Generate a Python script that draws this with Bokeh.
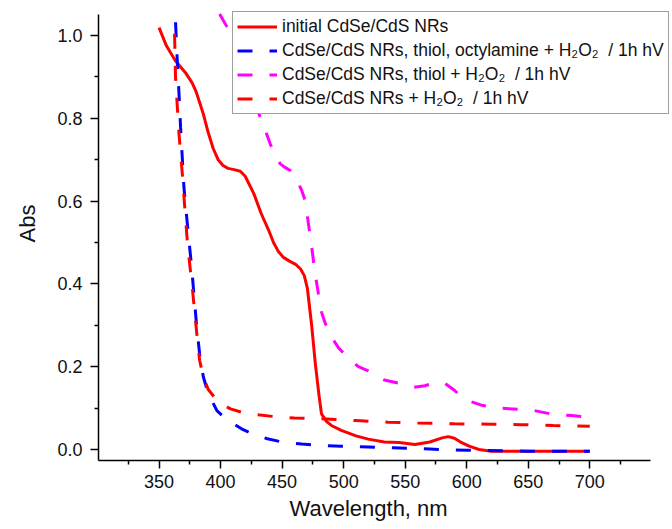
from bokeh.plotting import figure
from bokeh.models import Range1d, FixedTicker, PrintfTickFormatter, Legend, LegendItem, Title
from bokeh.embed import file_html
from bokeh.resources import INLINE

# ---- data ----
init_x = [350, 356, 363, 368, 372, 377, 380, 383, 386, 390, 394, 398, 402, 406, 411, 416,
          420, 427, 433, 439, 443, 447, 451, 456, 461, 465, 468, 470.5, 474, 477, 480, 482,
          486, 490, 498, 510, 520, 533, 545, 558, 570, 580, 585, 590, 595, 602, 610, 620,
          650, 700]
init_y = [1.019, 0.975, 0.940, 0.922, 0.908, 0.885, 0.865, 0.838, 0.810, 0.765, 0.727, 0.700,
          0.686, 0.679, 0.676, 0.672, 0.660, 0.618, 0.570, 0.530, 0.500, 0.478, 0.464, 0.455,
          0.447, 0.436, 0.420, 0.390, 0.300, 0.207, 0.130, 0.086, 0.068, 0.058, 0.046, 0.033,
          0.025, 0.018, 0.017, 0.012, 0.018, 0.028, 0.031, 0.027, 0.018, 0.008, 0.000, -0.004,
          -0.004, -0.004]

octyl_x = [363.4, 364.8, 366.2, 367.5, 370.2, 372.5, 374.3, 376.5, 378.3, 380.5, 383, 386,
           390, 397, 405, 417, 427, 438, 450, 466, 480, 498, 520, 540, 570, 600, 650, 700]
octyl_y = [1.032, 0.940, 0.860, 0.778, 0.634, 0.560, 0.505, 0.440, 0.376, 0.300, 0.230, 0.175,
           0.135, 0.094, 0.072, 0.050, 0.036, 0.026, 0.018, 0.013, 0.010, 0.008, 0.006, 0.004,
           0.001, -0.002, -0.004, -0.004]

thiol_x = [399.2, 405, 410.7, 418, 424, 430, 436.3, 440.4, 444, 448.5, 452, 456.6, 460,
           463.4, 466, 468.7, 471.4, 474, 476.8, 479.5, 482.2, 485, 490, 496, 504, 512, 520,
           533, 545, 557, 566, 575, 582, 590, 596, 603, 612, 625, 638, 655, 668, 685, 700]
thiol_y = [1.052, 1.022, 0.992, 0.930, 0.875, 0.820, 0.771, 0.738, 0.712, 0.690, 0.682,
           0.674, 0.660, 0.642, 0.625, 0.601, 0.545, 0.490, 0.425, 0.376, 0.330, 0.305, 0.272,
           0.245, 0.220, 0.200, 0.190, 0.168, 0.160, 0.150, 0.154, 0.162, 0.160, 0.143, 0.126,
           0.116, 0.107, 0.100, 0.098, 0.094, 0.086, 0.082, 0.078]

h2o2_x = [362.6, 363.4, 364.8, 366.2, 368.9, 371, 372.9, 375, 377, 379, 381, 383, 386, 390,
          398, 408, 417, 430, 442, 460, 482, 510, 536, 560, 590, 620, 644, 670, 700]
h2o2_y = [1.004, 0.899, 0.830, 0.763, 0.666, 0.580, 0.505, 0.445, 0.392, 0.330, 0.270, 0.215,
          0.175, 0.145, 0.115, 0.098, 0.090, 0.084, 0.080, 0.076, 0.074, 0.070, 0.066, 0.064,
          0.062, 0.061, 0.060, 0.058, 0.056]

labels = ["initial CdSe/CdS NRs",
          "CdSe/CdS NRs, thiol, octylamine + H\u2082O\u2082  / 1h hV",
          "CdSe/CdS NRs, thiol + H\u2082O\u2082  / 1h hV",
          "CdSe/CdS NRs + H\u2082O\u2082  / 1h hV"]

x_title = "Wavelength, nm"
y_title = "Abs"

x_ticks = [350, 400, 450, 500, 550, 600, 650, 700]
x_minor = [325, 375, 425, 475, 525, 575, 625, 675, 725]
y_ticks = [0.0, 0.2, 0.4, 0.6, 0.8, 1.0]
y_minor = [0.1, 0.3, 0.5, 0.7, 0.9]

FONT = "Liberation Sans"
TXT = "#111111"

# axis extents (the drawn axes) and the wider plotting area that holds the legend
X_AX = (300.8, 749.5)
Y_AX = (-0.0266, 1.0507)

p = figure(width=672, height=529, output_backend="svg", toolbar_location=None,
           x_range=Range1d(300.8, 767.2), y_range=Range1d(-0.0266, 1.0845),
           min_border_left=96, min_border_right=0, min_border_top=0, min_border_bottom=69)
p.outline_line_color = None
p.xgrid.visible = False
p.ygrid.visible = False
p.background_fill_color = "white"
p.border_fill_color = "white"

DASH = "15 17"
r0 = p.line(init_x, init_y, line_color="#FF0000", line_width=3, line_join="round")
r1 = p.line(octyl_x, octyl_y, line_color="#0000FF", line_width=3, line_dash=DASH)
r2 = p.line(thiol_x, thiol_y, line_color="#FF00FF", line_width=3, line_dash=DASH)
r3 = p.line(h2o2_x, h2o2_y, line_color="#FF0000", line_width=3, line_dash=DASH)

for ax in (p.xaxis[0], p.yaxis[0]):
    ax.axis_line_color = "black"
    ax.axis_line_width = 1.5
    ax.major_tick_line_color = "black"
    ax.minor_tick_line_color = "black"
    ax.major_tick_line_width = 1.5
    ax.minor_tick_line_width = 1.5
    ax.major_tick_in = 0
    ax.major_tick_out = 8
    ax.minor_tick_in = 0
    ax.minor_tick_out = 4
    ax.major_label_text_font = FONT
    ax.major_label_text_font_size = "18px"
    ax.major_label_text_color = TXT

p.xaxis.bounds = X_AX
p.yaxis.bounds = Y_AX
p.xaxis.ticker = FixedTicker(ticks=x_ticks, minor_ticks=x_minor)
p.yaxis.ticker = FixedTicker(ticks=y_ticks, minor_ticks=y_minor)
p.yaxis.formatter = PrintfTickFormatter(format="%.1f")
p.xaxis.major_label_standoff = 6
p.yaxis.major_label_standoff = 8

# axis titles, positioned along their axes as in the reference
tx = Title(text=x_title, align="left", offset=191, standoff=9, vertical_align="middle",
           text_font=FONT, text_font_size="22px", text_font_style="normal", text_color=TXT)
p.add_layout(tx, "below")
ty = Title(text=y_title, align="left", offset=218, standoff=27, vertical_align="middle",
           text_font=FONT, text_font_size="22px", text_font_style="normal", text_color=TXT)
p.add_layout(ty, "left")

legend = Legend(items=[LegendItem(label=labels[0], renderers=[r0]),
                       LegendItem(label=labels[1], renderers=[r1]),
                       LegendItem(label=labels[2], renderers=[r2]),
                       LegendItem(label=labels[3], renderers=[r3])],
                location=(134, 346))
legend.label_text_font = FONT
legend.label_text_font_size = "17.5px"
legend.label_text_color = TXT
legend.glyph_width = 40
legend.glyph_height = 21
legend.label_height = 21
legend.label_standoff = 5
legend.spacing = 3
legend.padding = 4
legend.margin = 0
legend.border_line_color = "#404040"
legend.border_line_width = 1
legend.background_fill_color = "white"
legend.background_fill_alpha = 1.0
p.add_layout(legend)

open("out.html", "w").write(file_html(p, INLINE))
